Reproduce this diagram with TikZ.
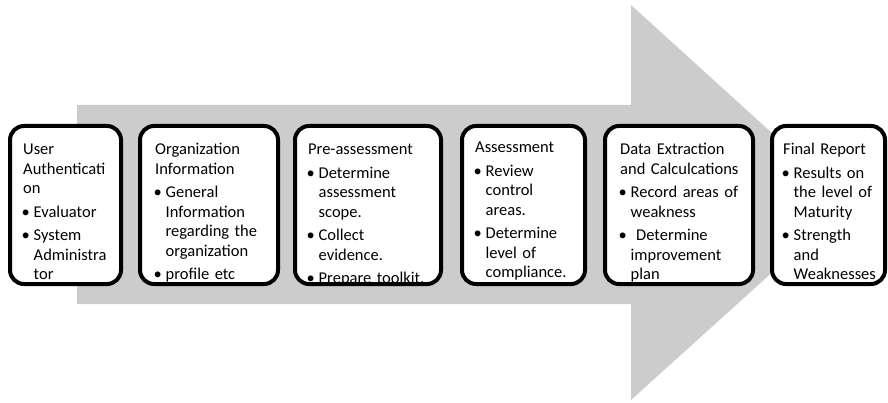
\documentclass[tikz,border=0pt]{standalone}
\usepackage{fontspec}
\setmainfont{Carlito}
\usepackage{tikz}
\definecolor{arrowgray}{RGB}{204,204,204}
\newcommand{\stageitem}[1]{\par\vspace{4pt}\hangindent=10.5pt\hangafter=1\noindent\makebox[10.5pt][l]{\hspace{-1.5pt}\textbullet}#1\par}

\begin{document}
\begin{tikzpicture}[x=1pt, y=-1pt,
	stage/.style={draw=black, fill=white, line width=4pt, rounded corners=14pt, outer sep=0pt, inner sep=0pt, minimum height=158pt, anchor=north west},
	stagetext/.style={anchor=north west, inner sep=0pt, text width=140pt, align=left, font=\fontsize{16.5}{19.5}\selectfont}]
	\useasboundingbox (0,0) rectangle (888,403);
	% big arrow behind the stages
	\fill[arrowgray] (77,105) -- (631,105) -- (631,5) -- (849,203) -- (631,400) -- (631,304) -- (77,304) -- cycle;
	\node[stage, minimum width=111pt] (user) at (10,126) {};
	\node[stagetext] (usertext) at ([xshift=13pt,yshift=-15pt]user.north west) {\noindent\strut User\newline Authenticati\newline on
		\stageitem{Evaluator}
		\stageitem{System\newline Administra\newline tor}};
	\node[stage, minimum width=138pt] (org) at (140,126) {};
	\node[stagetext] (orgtext) at ([xshift=15pt,yshift=-15pt]org.north west) {\noindent\strut Organization\newline Information
		\stageitem{General\newline Information\newline regarding the\newline organization}
		\stageitem{profile etc}};
	\node[stage, minimum width=146pt] (pre) at (295,126) {};
	\node[stagetext] (pretext) at ([xshift=13pt,yshift=-15pt]pre.north west) {\noindent\strut Pre-assessment
		\stageitem{Determine\newline assessment\newline scope.}
		\stageitem{Collect\newline evidence.}
		\stageitem{Prepare toolkit.}};
	\node[stage, minimum width=123pt] (assess) at (462,126) {};
	\node[stagetext] (assesstext) at ([xshift=13pt,yshift=-13pt]assess.north west) {\noindent\strut Assessment
		\stageitem{Review\newline control\newline areas.}
		\stageitem{Determine\newline level of\newline compliance.}};
	\node[stage, minimum width=148pt] (data) at (605,126) {};
	\node[stagetext] (datatext) at ([xshift=15pt,yshift=-15pt]data.north west) {\noindent\strut Data Extraction\newline and Calculcations
		\stageitem{Record areas of\newline weakness}
		\stageitem{\ Determine\newline improvement\newline plan}};
	\node[stage, minimum width=113pt] (report) at (772,126) {};
	\node[stagetext] (reporttext) at ([xshift=11pt,yshift=-15pt]report.north west) {\noindent\strut Final Report
		\stageitem{Results on\newline the level of\newline Maturity}
		\stageitem{Strength\newline and\newline Weaknesses}};
\end{tikzpicture}
\end{document}
